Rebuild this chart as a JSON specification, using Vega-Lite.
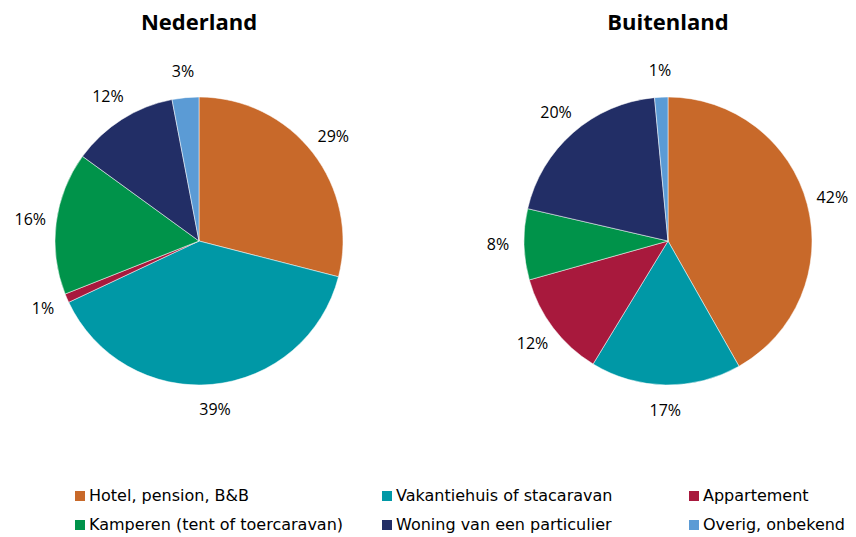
{
  "$schema": "https://vega.github.io/schema/vega-lite/v6.json",
  "padding": {"left": 14, "top": 12, "right": 3, "bottom": 0},
  "background": "white",
  "data": {"values": [
    {"region": "Nederland", "category": "Hotel, pension, B&B", "order": 1, "value": 29, "label": "29%"},
    {"region": "Nederland", "category": "Vakantiehuis of stacaravan", "order": 2, "value": 39, "label": "39%"},
    {"region": "Nederland", "category": "Appartement", "order": 3, "value": 1, "label": "1%"},
    {"region": "Nederland", "category": "Kamperen (tent of toercaravan)", "order": 4, "value": 16, "label": "16%"},
    {"region": "Nederland", "category": "Woning van een particulier", "order": 5, "value": 12, "label": "12%"},
    {"region": "Nederland", "category": "Overig, onbekend", "order": 6, "value": 3, "label": "3%"},
    {"region": "Buitenland", "category": "Hotel, pension, B&B", "order": 1, "value": 42, "label": "42%"},
    {"region": "Buitenland", "category": "Vakantiehuis of stacaravan", "order": 2, "value": 17, "label": "17%"},
    {"region": "Buitenland", "category": "Appartement", "order": 3, "value": 12, "label": "12%"},
    {"region": "Buitenland", "category": "Kamperen (tent of toercaravan)", "order": 4, "value": 8, "label": "8%"},
    {"region": "Buitenland", "category": "Woning van een particulier", "order": 5, "value": 20, "label": "20%"},
    {"region": "Buitenland", "category": "Overig, onbekend", "order": 6, "value": 1.5, "label": "1%"}
  ]},
  "facet": {
    "column": {
      "field": "region",
      "type": "nominal",
      "sort": ["Nederland", "Buitenland"],
      "header": {"title": null, "labelFontSize": 22, "labelFontWeight": "bold", "labelFont": "Open Sans", "labelColor": "#000000", "labelPadding": 8}
    }
  },
  "spacing": 99,
  "spec": {
    "width": 370,
    "height": 396,
    "layer": [
      {
        "mark": {"type": "arc", "outerRadius": 144, "stroke": "white", "strokeWidth": 0.5},
        "encoding": {
          "theta": {"field": "value", "type": "quantitative", "stack": true},
          "order": {"field": "order", "type": "quantitative"},
          "color": {
            "field": "category",
            "type": "nominal",
            "scale": {
              "domain": ["Hotel, pension, B&B", "Vakantiehuis of stacaravan", "Appartement", "Kamperen (tent of toercaravan)", "Woning van een particulier", "Overig, onbekend"],
              "range": ["#C8692A", "#0098A6", "#A8193D", "#00934A", "#222E66", "#5B9BD5"]
            },
            "legend": {
              "title": null,
              "orient": "none",
              "direction": "horizontal",
              "legendX": 58,
              "legendY": 445,
              "columns": 3,
              "gridAlign": "all",
              "columnPadding": 35,
              "rowPadding": 13,
              "symbolType": "square",
              "symbolSize": 100,
              "symbolStrokeWidth": 0,
              "labelFontSize": 16,
              "labelFont": "DejaVu Sans",
              "labelColor": "#000000",
              "labelOffset": 1,
              "labelLimit": 400
            }
          }
        }
      },
      {
        "mark": {"type": "text", "radius": 170, "fontSize": 16, "font": "Open Sans", "color": "#000000"},
        "encoding": {
          "theta": {"field": "value", "type": "quantitative", "stack": true},
          "order": {"field": "order", "type": "quantitative"},
          "text": {"field": "label", "type": "nominal"}
        }
      }
    ]
  },
  "config": {"view": {"stroke": null}}
}
